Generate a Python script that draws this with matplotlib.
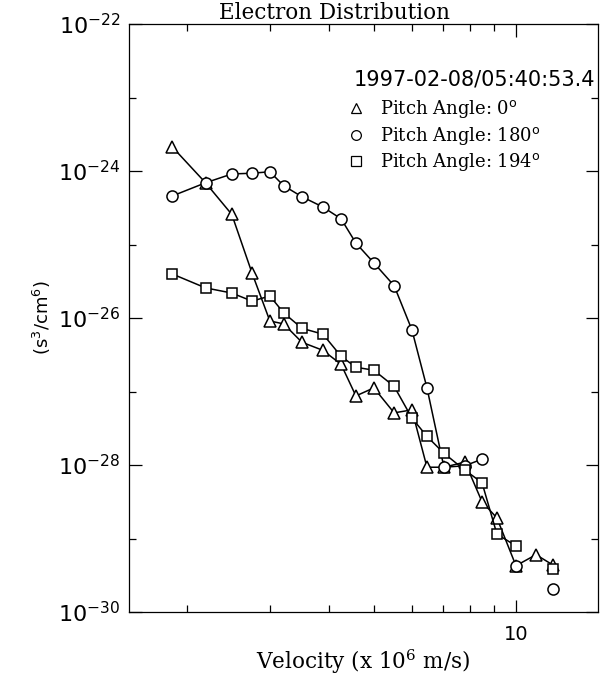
#!/usr/bin/env python3
"""Electron distribution vs velocity, three pitch angles"""

import numpy as np
import matplotlib
matplotlib.use('Agg')
import matplotlib.pyplot as plt
from matplotlib.ticker import FixedLocator, NullFormatter, FixedFormatter

# velocity grid (x 10^6 m/s), shared by all pitch angles
velocity = [1.86, 2.19, 2.49, 2.75, 3.00, 3.21, 3.51, 3.89, 4.25, 4.57, 4.99,
            5.51, 6.01, 6.47, 7.03, 7.79, 8.47, 9.11, 10.0, 11.03, 11.98]

# log10 of phase space density (s^3/cm^6); nan = no point
log_pa0 = [-23.67, -24.16, -24.59, -25.39, -26.04, -26.08, -26.33, -26.44, -26.63,
           -27.06, -26.95, -27.29, -27.25, -28.03, -28.03, -27.96, -28.50, -28.72,
           -29.37, -29.22, -29.36]
log_pa180 = [-24.34, -24.16, -24.04, -24.03, -24.01, -24.20, -24.35, -24.49, -24.65,
             -24.98, -25.25, -25.56, -26.16, -26.95, -28.03, -28.01, -27.92, np.nan,
             -29.37, np.nan, -29.69]
log_pa194 = [-25.40, -25.59, -25.66, -25.77, -25.70, -25.93, -26.14, -26.22, -26.52,
             -26.67, -26.71, -26.93, -27.36, -27.61, -27.84, -28.07, -28.24, -28.94,
             -29.10, np.nan, -29.41]

labels = ['Pitch Angle: 0$^{\\rm o}$', 'Pitch Angle: 180$^{\\rm o}$', 'Pitch Angle: 194$^{\\rm o}$']
markers = ['^', 'o', 's']
timestamp = '1997-02-08/05:40:53.4'

SERIF = 'DejaVu Serif'
SANS = 'DejaVu Sans'


def main():
    fig = plt.figure(figsize=(6, 6.75), dpi=100)
    ax = fig.add_axes([0.215, 0.0933, 0.7817, 0.8711])

    v = np.array(velocity)
    handles = []
    for logs, mk, lab in zip([log_pa0, log_pa180, log_pa194], markers, labels):
        f = 10.0 ** np.array(logs)
        ms = {'^': 8, 'o': 8, 's': 7.5}[mk]
        h, = ax.plot(v, f, color='black', linewidth=1.1, marker=mk, markersize=ms,
                     markerfacecolor='white', markeredgecolor='black',
                     markeredgewidth=1.1, label=lab)
        handles.append(h)

    ax.set_xscale('log')
    ax.set_yscale('log')
    ax.set_xlim(1.506, 14.94)
    ax.set_ylim(1e-30, 1e-22)

    ax.xaxis.set_major_locator(FixedLocator([10]))
    ax.xaxis.set_major_formatter(FixedFormatter(['10']))
    ax.xaxis.set_minor_locator(FixedLocator([2, 3, 4, 5, 6, 7, 8, 9]))
    ax.xaxis.set_minor_formatter(NullFormatter())

    yt = [1e-30, 1e-28, 1e-26, 1e-24, 1e-22]
    ax.yaxis.set_major_locator(FixedLocator(yt))
    ax.yaxis.set_major_formatter(FixedFormatter(
        ['10$^{\\mathdefault{-30}}$', '10$^{\\mathdefault{-28}}$', '10$^{\\mathdefault{-26}}$',
         '10$^{\\mathdefault{-24}}$', '10$^{\\mathdefault{-22}}$']))
    ax.yaxis.set_minor_locator(FixedLocator([1e-29, 1e-27, 1e-25, 1e-23]))
    ax.yaxis.set_minor_formatter(NullFormatter())

    ax.tick_params(which='both', direction='in', top=True, right=True, width=0.9)
    ax.tick_params(which='major', length=9)
    ax.tick_params(which='minor', length=5)
    ax.tick_params(axis='y', labelsize=16, pad=6)
    ax.tick_params(axis='x', labelsize=14, pad=9)
    for lbl in ax.get_xticklabels() + ax.get_yticklabels():
        lbl.set_family(SANS)
    for spine in ax.spines.values():
        spine.set_linewidth(0.9)

    ax.set_title('Electron Distribution', family=SERIF, fontsize=15.5, pad=1, x=0.439)
    ax.set_xlabel('Velocity (x 10$^{\\mathdefault{6}}$ m/s)', family=SERIF, fontsize=15.5, labelpad=3)
    ax.set_ylabel('(s$^{\\mathdefault{3}}$/cm$^{\\mathdefault{6}}$)', family=SANS, fontsize=13, labelpad=4)

    ax.text(0.995, 0.905, timestamp, transform=ax.transAxes, ha='right', va='center',
            family=SANS, fontsize=15)
    leg = ax.legend(handles=handles, loc='upper left', bbox_to_anchor=(0.465, 0.889),
                    frameon=False, prop={'family': SERIF, 'size': 13},
                    handlelength=0, handletextpad=1.3, labelspacing=0.25, borderpad=0)
    for lh in leg.legend_handles:
        lh.set_markersize(7)
        lh.set_markeredgewidth(0.9)

    fig.savefig('out.png', dpi=100, facecolor='white')
    plt.close(fig)


if __name__ == '__main__':
    main()
